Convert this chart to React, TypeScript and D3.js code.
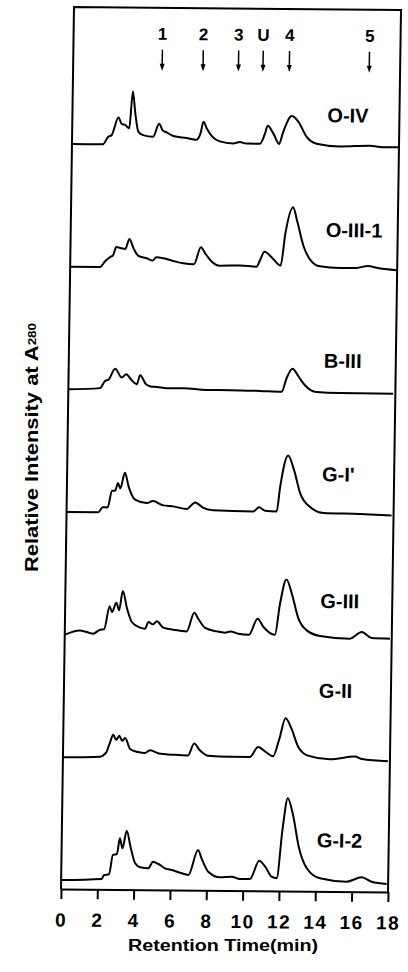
import React, { useEffect, useRef } from "react";
import * as d3 from "d3";

type Pt = [number, number];

// sample names, top to bottom
const samples = ["O-IV", "O-III-1", "B-III", "G-I'", "G-III", "G-II", "G-I-2"];

// marker peaks at the top of the frame (retention time, min)
const markerLabels = ["1", "2", "3", "U", "4", "5"];
const markerTimes = [4.9, 7.15, 9.1, 10.45, 11.9, 16.3];

const xTicks = [0, 2, 4, 6, 8, 10, 12, 14, 16, 18];

// chromatograms: [retention time (min), relative intensity]
const oIV: Pt[] = [
  [0, 0], [1.7, 0], [1.99, 7.6], [2.17, 9.2], [2.54, 27], [2.72, 20.5], [2.91, 19.5],
  [3.14, 16.2], [3.31, 53], [3.46, 31.5], [3.64, 13], [3.91, 9.5], [4.46, 8], [4.78, 21],
  [4.98, 14.5], [5.2, 12.5], [5.56, 9], [6.3, 7], [6.85, 5.5], [7.07, 12], [7.22, 23.5],
  [7.4, 17], [7.68, 9.5], [8.13, 4], [8.87, 2], [9.24, 3.5], [9.6, 2], [10.34, 2],
  [10.59, 10.8], [10.76, 20], [11.07, 12.5], [11.4, 2], [11.59, 12.6], [12.08, 30],
  [12.44, 24.5], [12.9, 9.5], [13.46, 2.5], [14.74, 0], [16.4, 1], [17.1, -0.5], [17.95, -0.3],
];

const oIII1: Pt[] = [
  [0, 0], [1.64, 0], [1.92, 5.8], [2.19, 10], [2.34, 11.4], [2.52, 20.1], [2.74, 19.2],
  [3.02, 18.2], [3.24, 28.2], [3.47, 19], [3.75, 11.4], [4.21, 9.1], [4.54, 6.8], [4.72, 10.2],
  [5.12, 9.3], [5.67, 6.6], [6.22, 4.4], [6.81, 3.6], [7.18, 20.5], [7.42, 14.6], [7.79, 6.3],
  [8.24, 2.4], [9.35, 2.8], [10.26, 1.7], [10.45, 8.4], [10.68, 16.7], [11.18, 9.3],
  [11.58, 2.9], [11.82, 35.5], [12.22, 61.5], [12.46, 47.4], [12.83, 22.6], [13.2, 9.3],
  [13.75, 2.6], [14.85, 1.1], [15.77, 1.4], [16.4, 3.5], [16.87, 1.7], [17.97, -0.6],
];

const bIII: Pt[] = [
  [0, 0], [1.74, 1.5], [2.01, 8.7], [2.2, 10], [2.56, 21.1], [2.93, 12.2], [3.17, 15.7],
  [3.48, 9.6], [3.76, 5.6], [3.94, 14.7], [4.27, 5.8], [4.58, 3.4], [4.86, 3.2], [5.41, 2],
  [6.36, 2.2], [7.61, 0.6], [8.89, 0.6], [10.54, 0.1], [11.74, -0.5], [12.01, 13.6],
  [12.32, 22.7], [12.65, 15.2], [13.02, 6.2], [13.66, -0.5], [14.95, -1.3], [17.88, -1.5],
];

const gIPrime: Pt[] = [
  [0, 0], [1.75, 0], [1.99, 5], [2.26, 5], [2.48, 21.5], [2.66, 22], [2.81, 29.5], [2.94, 24],
  [3.18, 39.7], [3.4, 25.7], [3.76, 13], [4.41, 9.7], [4.74, 11.7], [5.32, 7.5], [5.87, 6.6],
  [6.61, 4.1], [7.07, 10.8], [7.52, 5.3], [8.07, 3], [10.28, 2.3], [10.59, 6.4], [10.92, 3.1],
  [11.56, 2.5], [11.74, 27.6], [12.15, 58.6], [12.48, 44.4], [12.84, 21.1], [13.4, 7.2],
  [14.13, 1.4], [16.15, 0.7], [17.89, -0.4],
];

const gIII: Pt[] = [
  [0, 0], [0.84, 4.4], [1.57, 1.3], [1.94, 5.3], [2.16, 5.7], [2.45, 28.7], [2.58, 23],
  [2.82, 32.5], [2.97, 24.8], [3.16, 44.2], [3.41, 26.6], [3.68, 13.3], [4.14, 7.7], [4.41, 6.7],
  [4.6, 13.5], [4.84, 11.1], [5.06, 14.2], [5.42, 7.9], [5.97, 6], [6.71, 4.4], [7.11, 23.2],
  [7.35, 16.6], [7.72, 8], [8.36, 4.7], [8.82, 3.5], [9.13, 4.8], [9.55, 2.6], [10.14, 1.7],
  [10.6, 17.8], [10.93, 9.5], [11.57, 1.9], [11.81, 31.3], [12.16, 57.3], [12.49, 41.4],
  [12.85, 18.1], [13.31, 6.5], [14.05, 1], [15.7, -1.4], [16.34, 5.4], [16.89, -0.5], [17.9, -1],
];

const gII: Pt[] = [
  [0, 0], [2.04, 1], [2.37, 5], [2.59, 16], [2.75, 23], [2.92, 18], [3.08, 22], [3.25, 17],
  [3.41, 20], [3.69, 9], [4.13, 6], [4.51, 5], [4.79, 8], [5.23, 5], [6.16, 3.5], [6.88, 3],
  [7.21, 15], [7.54, 8], [7.98, 3], [9.19, 2], [10.29, 2], [10.73, 12], [11.17, 7], [11.56, 3],
  [11.89, 20], [12.22, 41], [12.55, 31], [12.93, 13], [13.48, 4], [14.69, 0.5], [16.07, 3.5],
  [16.46, 1], [17.89, -1],
];

const gI2: Pt[] = [
  [0, 0], [2.23, 1.4], [2.36, 5.4], [2.63, 6.1], [2.83, 25.5], [3.05, 26.5], [3.2, 42.2],
  [3.35, 32.3], [3.57, 49.9], [3.79, 34], [4.06, 17.4], [4.34, 13.4], [4.79, 12.5], [5.04, 19.1],
  [5.34, 16.9], [5.71, 12.6], [6.08, 11], [6.54, 8.4], [7.0, 6.2], [7.51, 31.2], [7.73, 22],
  [8.09, 9.6], [8.74, 4.1], [9.38, 4.9], [9.84, 2.6], [10.39, 2.7], [10.89, 21.1], [11.22, 15.2],
  [11.58, 5.2], [11.86, 3.7], [12.14, 52], [12.41, 83.8], [12.69, 68.8], [13.05, 35.5],
  [13.51, 14], [14.24, 4.1], [15.71, 0.9], [16.54, 5.4], [17.09, 1.1], [17.92, -1],
];

const traces = [oIV, oIII1, bIII, gIPrime, gIII, gII, gI2];

// how far each sample name sits above its baseline
const labelLift = [24, 32, 24, 33, 29, 62, 35];

const FONT = "'Liberation Sans', Arial, Helvetica, sans-serif";

export default function App() {
  const ref = useRef<SVGSVGElement>(null);

  useEffect(() => {
    const svg = d3.select(ref.current);
    svg.selectAll("*").remove();

    const W = 327, H = 882;
    // the scanned frame is slightly skewed
    const plot = svg.append("g").attr("transform", "matrix(1,0.00917,-0.01474,1,74,7)");

    const x = d3.scaleLinear().domain([0, 18]).range([0, W]);
    const base = d3.scalePoint<string>().domain(samples).range([137, 873]);
    const y = d3.scaleLinear().domain([0, 100]).range([0, -100]);

    plot.append("path")
      .attr("d", `M0,${H}V0H${W}V${H}`)
      .attr("fill", "none").attr("stroke", "#000").attr("stroke-width", 2);

    const ax = plot.append("g")
      .attr("transform", `translate(0,${H})`)
      .call(d3.axisBottom(x).tickValues(xTicks).tickSize(10).tickSizeOuter(0).tickPadding(14));
    ax.select(".domain").attr("stroke-width", 2);
    ax.selectAll(".tick line").attr("stroke-width", 2);
    ax.selectAll(".tick text")
      .attr("font-size", 19).attr("font-weight", "bold")
      .attr("font-family", FONT).attr("letter-spacing", 1.5).attr("fill", "#000");

    const line = d3.line<Pt>()
      .x(d => x(d[0]))
      .y(d => y(d[1]))
      .curve(d3.curveMonotoneX);

    plot.selectAll(".trace")
      .data(traces)
      .join("path")
      .attr("class", "trace")
      .attr("transform", (d, i) => `translate(0,${base(samples[i])})`)
      .attr("d", line)
      .attr("fill", "none").attr("stroke", "#000").attr("stroke-width", 2)
      .attr("stroke-linejoin", "round");

    plot.selectAll(".sname")
      .data(samples)
      .join("text")
      .attr("class", "sname")
      .attr("x", 255)
      .attr("y", (d, i) => (base(d) as number) - labelLift[i])
      .attr("font-size", 20).attr("font-weight", "bold").attr("font-family", FONT)
      .text(d => d);

    const mk = plot.selectAll(".marker")
      .data(markerTimes)
      .join("g")
      .attr("class", "marker")
      .attr("transform", d => `translate(${x(d)},0)`);
    mk.append("text")
      .attr("y", 32).attr("text-anchor", "middle")
      .attr("font-size", 17).attr("font-weight", "bold").attr("font-family", FONT)
      .text((d, i) => markerLabels[i]);
    mk.append("line")
      .attr("y1", 42).attr("y2", 57)
      .attr("stroke", "#000").attr("stroke-width", 1.5);
    mk.append("path")
      .attr("d", "M-2.5,56L2.5,56L0,63Z")
      .attr("fill", "#000");

    svg.append("text")
      .attr("transform", "translate(38,572) rotate(-90)")
      .attr("font-size", 18).attr("font-weight", "bold").attr("font-family", FONT)
      .attr("textLength", 249).attr("lengthAdjust", "spacingAndGlyphs")
      .call(t => {
        t.append("tspan").text("Relative  Intensity at A");
        t.append("tspan").attr("font-size", 11).attr("dy", -2).text("280");
      });

    svg.append("text")
      .attr("x", 128).attr("y", 951)
      .attr("font-size", 16).attr("font-weight", "bold").attr("font-family", FONT)
      .attr("textLength", 190).attr("lengthAdjust", "spacingAndGlyphs")
      .text("Retention Time(min)");
  }, []);

  return (
    <svg
      ref={ref}
      width={408}
      height={972}
      style={{ position: "absolute", left: 0, top: 0, background: "#fff" }}
    />
  );
}
